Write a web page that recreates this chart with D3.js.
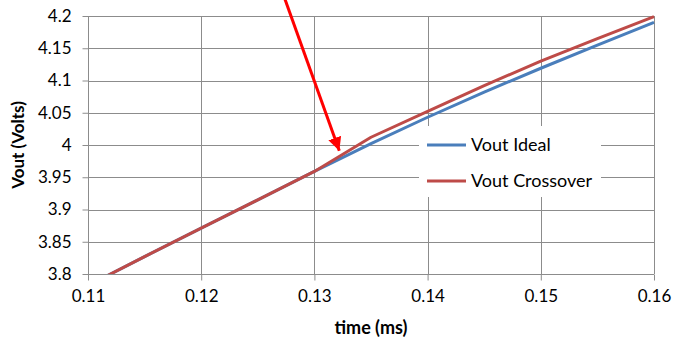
<!DOCTYPE html>
<html><head><meta charset="utf-8">
<script src="https://d3js.org/d3.v7.min.js"></script>
<style>
body{margin:0;background:#fff;}
text{font-family:Lato,"Open Sans",sans-serif;fill:#000;}
</style>
</head>
<body>
<script>
// values
var times   = [0.11, 0.115, 0.12, 0.125, 0.13, 0.135, 0.14, 0.145, 0.15, 0.155, 0.16];
var ideal   = [3.782, 3.827, 3.871, 3.915, 3.959, 4.002, 4.043, 4.082, 4.119, 4.155, 4.190];
var cross   = [3.782, 3.827, 3.871, 3.915, 3.959, 4.012, 4.052, 4.092, 4.130, 4.165, 4.199];
var xTicks  = [0.11, 0.12, 0.13, 0.14, 0.15, 0.16];
var yTicks  = [3.8, 3.85, 3.9, 3.95, 4, 4.05, 4.1, 4.15, 4.2];
var seriesNames = ["Vout Ideal", "Vout Crossover"];
var seriesColors = ["#4a7ebb", "#be4b48"];
// arrow annotation, in data units: start (above the plot) and tip
var arrowFrom = [0.1274, 4.226];
var arrowTo   = [0.1322, 3.991];

var W=677, H=341;
var pL=88, pR=654, pT=16, pB=274;
var fs="17px";

var svg=d3.select("body").append("svg").attr("width",W).attr("height",H);

var x=d3.scaleLinear().domain([0.11,0.16]).range([pL,pR]);
var y=d3.scaleLinear().domain([3.8,4.2]).range([pB,pT]);

var grid="#8c8c8c";

// gridlines
svg.append("g").selectAll("line").data(yTicks).enter().append("line")
 .attr("x1",pL).attr("x2",pR)
 .attr("y1",function(d){return Math.round(y(d))+0.5;})
 .attr("y2",function(d){return Math.round(y(d))+0.5;})
 .attr("stroke",grid).attr("stroke-width",1);
svg.append("g").selectAll("line").data(xTicks).enter().append("line")
 .attr("y1",pT).attr("y2",pB)
 .attr("x1",function(d){return Math.round(x(d))+0.5;})
 .attr("x2",function(d){return Math.round(x(d))+0.5;})
 .attr("stroke",grid).attr("stroke-width",1);

// axes
var xAxis=d3.axisBottom(x).tickValues(xTicks).tickSize(6).tickPadding(9)
 .tickFormat(function(d){return d3.format(".2f")(d);});
var gx=svg.append("g").attr("transform","translate(0,"+(pB+0.5)+")").call(xAxis);
var yAxis=d3.axisLeft(y).tickValues(yTicks).tickSize(6).tickPadding(11)
 .tickFormat(function(d){return String(+d.toFixed(2));});
var gy=svg.append("g").attr("transform","translate("+(pL+0.5)+",0)").call(yAxis);
[gx,gy].forEach(function(g){
  g.select(".domain").attr("stroke",grid);
  g.selectAll(".tick line").attr("stroke",grid);
  g.selectAll("text").style("font-family","Lato, 'Open Sans', sans-serif").style("font-size",fs).attr("fill","#000");
});
gx.select(".domain").attr("d","M"+pL+",0H"+pR);
gy.select(".domain").attr("d","M0,"+pT+"V"+pB);

// clip
svg.append("clipPath").attr("id","clip").append("rect")
 .attr("x",pL).attr("y",pT-3).attr("width",pR-pL+3).attr("height",pB-pT+3);

var line=d3.line().x(function(d){return x(d[0]);}).y(function(d){return y(d[1]);});
var series=[ideal,cross];
series.forEach(function(vals,i){
  svg.append("path")
   .datum(times.map(function(t,j){return [t,vals[j]];}))
   .attr("d",line).attr("fill","none")
   .attr("stroke",seriesColors[i]).attr("stroke-width",3)
   .attr("stroke-linejoin","round")
   .attr("clip-path","url(#clip)");
});

// legend
var lg=svg.append("g");
lg.append("rect").attr("x",419).attr("y",126).attr("width",182).attr("height",71).attr("fill","#fff");
seriesNames.forEach(function(n,i){
  var yy=145+i*36;
  lg.append("line").attr("x1",427).attr("x2",466).attr("y1",yy).attr("y2",yy)
   .attr("stroke",seriesColors[i]).attr("stroke-width",3);
  lg.append("text").attr("x",471).attr("y",yy+6).style("font-size","18px").text(n);
});

// arrow
svg.append("defs").append("marker").attr("id","ah")
 .attr("viewBox","0 0 10 10").attr("refX",10).attr("refY",5)
 .attr("markerWidth",4.5).attr("markerHeight",4.5).attr("markerUnits","strokeWidth")
 .attr("orient","auto")
 .append("path").attr("d","M0,0L10,5L0,10z").attr("fill","#ff0000");
svg.append("line")
 .attr("x1",x(arrowFrom[0])).attr("y1",y(arrowFrom[1]))
 .attr("x2",x(arrowTo[0])).attr("y2",y(arrowTo[1]))
 .attr("stroke","#ff0000").attr("stroke-width",3)
 .attr("marker-end","url(#ah)");

// axis titles
svg.append("text").attr("x",(pL+pR)/2).attr("y",334).attr("text-anchor","middle")
 .style("font-size","18px").style("font-weight","bold").text("time (ms)");
svg.append("text").attr("transform","translate(24,"+((pT+pB)/2)+") rotate(-90)")
 .attr("text-anchor","middle").style("font-size","17px").style("font-weight","bold").text("Vout (Volts)");
</script>
</body></html>
